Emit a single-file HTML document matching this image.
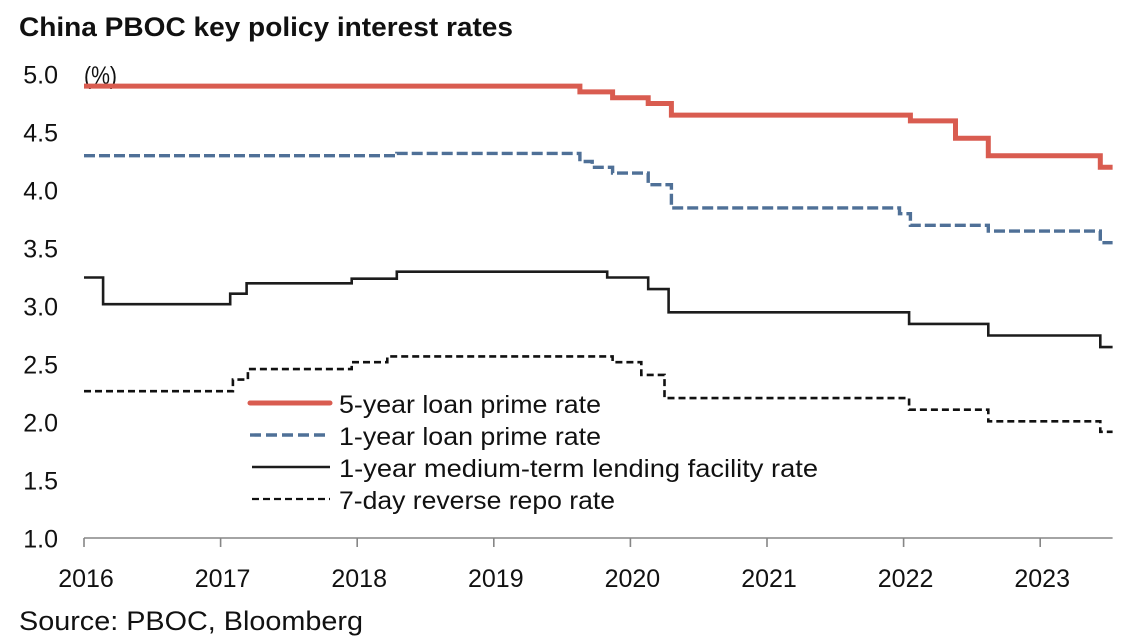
<!DOCTYPE html>
<html lang="en">
<head>
<meta charset="utf-8">
<title>China PBOC key policy interest rates</title>
<style>
html,body{margin:0;padding:0;background:#fff;}
svg{display:block;}
text{font-family:"Liberation Sans",Arial,sans-serif;fill:#111;}
</style>
</head>
<body>
<svg id="chart" xmlns="http://www.w3.org/2000/svg" width="1148" height="641" viewBox="0 0 1148 641">
  <text x="19" y="36" font-size="27" font-weight="700" textLength="494" lengthAdjust="spacingAndGlyphs">China PBOC key policy interest rates</text>
  <text x="84" y="84" font-size="25" textLength="33" lengthAdjust="spacingAndGlyphs">(%)</text>
  <g id="y-axis"></g>
  <g id="x-axis"></g>
  <g id="series"></g>
  <g id="legend">
    <g>
      <line x1="250" y1="403" x2="330" y2="403" stroke="#d95c50" stroke-width="5" stroke-linecap="round"/>
      <text x="339" y="413" font-size="25" textLength="262" lengthAdjust="spacingAndGlyphs">5-year loan prime rate</text>
    </g>
    <g>
      <line x1="250" y1="435" x2="330" y2="435" stroke="#4f7097" stroke-width="3.4" stroke-dasharray="11 5"/>
      <text x="339" y="445" font-size="25" textLength="262" lengthAdjust="spacingAndGlyphs">1-year loan prime rate</text>
    </g>
    <g>
      <line x1="252" y1="467" x2="330" y2="467" stroke="#1c1c1c" stroke-width="2.5"/>
      <text x="339" y="477" font-size="25" textLength="479" lengthAdjust="spacingAndGlyphs">1-year medium-term lending facility rate</text>
    </g>
    <g>
      <line x1="252" y1="499" x2="330" y2="499" stroke="#111" stroke-width="2.2" stroke-dasharray="7 4"/>
      <text x="339" y="509" font-size="25" textLength="276" lengthAdjust="spacingAndGlyphs">7-day reverse repo rate</text>
    </g>
  </g>
  <text x="19" y="630" font-size="27" textLength="344" lengthAdjust="spacingAndGlyphs">Source: PBOC, Bloomberg</text>
</svg>
<script>
const yTickLabels = ["1.0","1.5","2.0","2.5","3.0","3.5","4.0","4.5","5.0"];
const xTickLabels = ["2016","2017","2018","2019","2020","2021","2022","2023"];

const lpr5Dates = [2016.00,2019.63,2019.87,2020.13,2020.30,2022.05,2022.38,2022.62,2023.44,2023.53];
const lpr5Values = [4.90,4.85,4.80,4.75,4.65,4.60,4.45,4.30,4.20,4.20];

const lpr1Dates = [2016.00,2018.29,2019.63,2019.72,2019.87,2020.13,2020.30,2021.97,2022.05,2022.62,2023.44,2023.53];
const lpr1Values = [4.30,4.32,4.25,4.20,4.15,4.05,3.85,3.80,3.70,3.65,3.55,3.55];

const mlfDates = [2016.00,2016.14,2017.07,2017.19,2017.96,2018.29,2019.83,2020.13,2020.28,2022.04,2022.62,2023.44,2023.53];
const mlfValues = [3.25,3.02,3.11,3.20,3.24,3.30,3.25,3.15,2.95,2.85,2.75,2.65,2.65];

const repoDates = [2016.00,2017.09,2017.20,2017.96,2018.22,2019.87,2020.08,2020.25,2022.04,2022.62,2023.44,2023.53];
const repoValues = [2.27,2.37,2.46,2.52,2.57,2.52,2.41,2.21,2.11,2.01,1.92,1.92];

const SVG_NS = "http://www.w3.org/2000/svg";
function xScale(year) { return 84 + (year - 2016) * 136.6; }
function yScale(rate) { return 538.5 - (rate - 1) * 116; }

const yAxis = document.getElementById("y-axis");
yTickLabels.forEach(function (label) {
  const t = document.createElementNS(SVG_NS, "text");
  
  
  t.setAttribute("x", 58);
  t.setAttribute("y", yScale(parseFloat(label)) + 9);
  t.setAttribute("text-anchor", "end");
  t.setAttribute("font-size", "25");
  t.textContent = label;
  yAxis.appendChild(t);
});

const xAxis = document.getElementById("x-axis");
const baseline = document.createElementNS(SVG_NS, "line");


baseline.setAttribute("x1", xScale(2016));
baseline.setAttribute("x2", xScale(2023.53));
baseline.setAttribute("y1", 538);
baseline.setAttribute("y2", 538);
baseline.setAttribute("stroke", "#868686");
baseline.setAttribute("stroke-width", "1.6");
xAxis.appendChild(baseline);
xTickLabels.forEach(function (label) {
  const x = xScale(parseFloat(label));
  const tick = document.createElementNS(SVG_NS, "line");
  
  
  tick.setAttribute("x1", x);
  tick.setAttribute("x2", x);
  tick.setAttribute("y1", 538);
  tick.setAttribute("y2", 547);
  tick.setAttribute("stroke", "#868686");
  tick.setAttribute("stroke-width", "1.6");
  xAxis.appendChild(tick);
  const t = document.createElementNS(SVG_NS, "text");
  
  
  t.setAttribute("x", x + 2);
  t.setAttribute("y", 587);
  t.setAttribute("text-anchor", "middle");
  t.setAttribute("font-size", "25");
  t.textContent = label;
  xAxis.appendChild(t);
});

function stepPath(dates, values) {
  let d = "M" + xScale(dates[0]).toFixed(1) + " " + yScale(values[0]).toFixed(1);
  for (let i = 1; i < dates.length; i++) {
    const x = xScale(dates[i]).toFixed(1);
    d += "H" + x;
    if (i < values.length) d += "V" + yScale(values[i]).toFixed(1);
  }
  return d;
}

const seriesGroup = document.getElementById("series");

const repoLine = document.createElementNS(SVG_NS, "path");


repoLine.setAttribute("d", stepPath(repoDates, repoValues));
repoLine.setAttribute("fill", "none");
repoLine.setAttribute("stroke", "#111");
repoLine.setAttribute("stroke-width", "2.6");
repoLine.setAttribute("stroke-dasharray", "7 4");
seriesGroup.appendChild(repoLine);

const mlfLine = document.createElementNS(SVG_NS, "path");


mlfLine.setAttribute("d", stepPath(mlfDates, mlfValues));
mlfLine.setAttribute("fill", "none");
mlfLine.setAttribute("stroke", "#1c1c1c");
mlfLine.setAttribute("stroke-width", "2.6");
seriesGroup.appendChild(mlfLine);

const lpr1Line = document.createElementNS(SVG_NS, "path");


lpr1Line.setAttribute("d", stepPath(lpr1Dates, lpr1Values));
lpr1Line.setAttribute("fill", "none");
lpr1Line.setAttribute("stroke", "#4f7097");
lpr1Line.setAttribute("stroke-width", "3.4");
lpr1Line.setAttribute("stroke-dasharray", "11 4");
seriesGroup.appendChild(lpr1Line);

const lpr5Line = document.createElementNS(SVG_NS, "path");


lpr5Line.setAttribute("d", stepPath(lpr5Dates, lpr5Values));
lpr5Line.setAttribute("fill", "none");
lpr5Line.setAttribute("stroke", "#d95c50");
lpr5Line.setAttribute("stroke-width", "5");
seriesGroup.appendChild(lpr5Line);
</script>
</body>
</html>
